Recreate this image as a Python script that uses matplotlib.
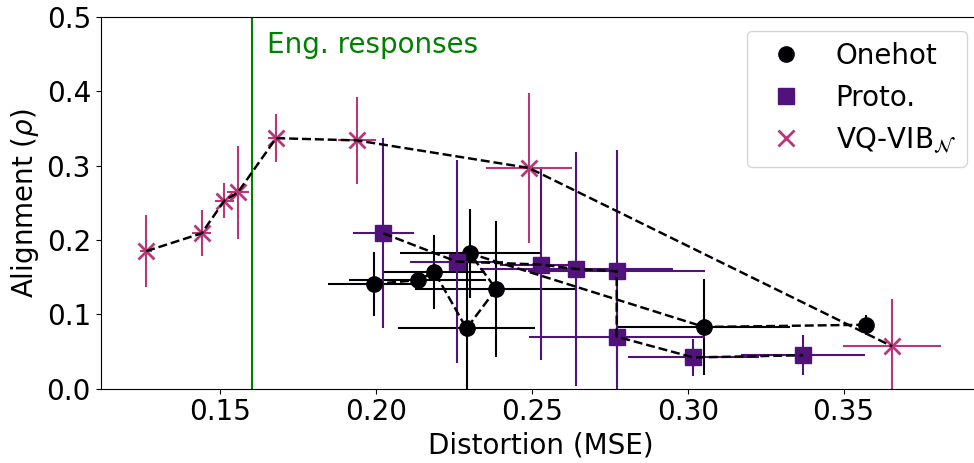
"""Alignment vs distortion for the three communication setups (onehot / proto / VQ-VIB)."""

import matplotlib
matplotlib.use("Agg")
import matplotlib.pyplot as plt
from matplotlib.lines import Line2D

# --- data (plotting order = dashed-line order) ---
onehot_x = [0.1994, 0.2134, 0.2187, 0.2290, 0.2385, 0.2301, 0.3053, 0.3571]
onehot_y = [0.141, 0.146, 0.157, 0.081, 0.134, 0.182, 0.083, 0.086]
onehot_xerr = [0.0149, 0.022, 0.0163, 0.0221, 0.0259, 0.0225, 0.0276, 0.002]
onehot_yerr = [0.043, 0.011, 0.050, 0.097, 0.092, 0.060, 0.065, 0.0135]

proto_x = [0.2023, 0.2258, 0.2529, 0.2643, 0.2772, 0.2772, 0.3018, 0.3370]
proto_y = [0.209, 0.171, 0.167, 0.161, 0.158, 0.070, 0.042, 0.045]
proto_xerr = [0.0097, 0.015, 0.013, 0.031, 0.0285, 0.0283, 0.021, 0.020]
proto_yerr = [0.128, 0.137, 0.128, 0.158, 0.163, 0.050, 0.025, 0.027]

vq_x = [0.1262, 0.1440, 0.1513, 0.1556, 0.1679, 0.1938, 0.2490, 0.3656]
vq_y = [0.185, 0.209, 0.253, 0.264, 0.337, 0.334, 0.297, 0.057]
vq_xerr = [0.002, 0.003, 0.003, 0.0035, 0.0025, 0.006, 0.0137, 0.0158]
vq_yerr = [0.048, 0.031, 0.024, 0.062, 0.032, 0.059, 0.101, 0.063]

eng_distortion = 0.16

series = [
    ("Onehot", "o", "#000004", onehot_x, onehot_y, onehot_xerr, onehot_yerr),
    ("Proto.", "s", "#51127c", proto_x, proto_y, proto_xerr, proto_yerr),
    (r"VQ-VIB$_\mathcal{N}$", "x", "#b73779", vq_x, vq_y, vq_xerr, vq_yerr),
]

plt.rcParams["font.size"] = 20

fig = plt.figure(figsize=(9.74, 4.63), dpi=100)
ax = fig.add_axes([0.1034, 0.1605, 0.9034, 0.8028])

handles = []
for label, marker, color, x, y, xe, ye in series:
    ax.errorbar(x, y, xerr=xe, yerr=ye, fmt="none", ecolor=color, elinewidth=1.5, zorder=2)
    if marker == "x":
        ax.plot(x, y, ls="none", marker=marker, ms=12, mew=2, color=color, zorder=3)
    else:
        ax.plot(x, y, ls="none", marker=marker, ms=11, color=color, zorder=3)
    ax.plot(x, y, ls="--", color="k", lw=1.75, zorder=4)
    handles.append(Line2D([], [], ls="none", marker=marker, color=color,
                          ms=11 if marker != "x" else 12, mew=2 if marker == "x" else 1,
                          label=label))

ax.axvline(eng_distortion, color="green", lw=1.5, zorder=1)
ax.text(0.165, 0.452, "Eng. responses", color="green", va="baseline")

ax.set_xlim(0.1116, 0.394)
ax.set_ylim(0, 0.5)
ax.set_xticks([0.15, 0.20, 0.25, 0.30, 0.35])
ax.set_yticks([0.0, 0.1, 0.2, 0.3, 0.4, 0.5])
ax.set_xlabel("Distortion (MSE)")
ax.set_ylabel(r"Alignment ($\rho$)")
ax.legend(handles=handles, loc="upper right")

fig.savefig("out.png", dpi=100)
